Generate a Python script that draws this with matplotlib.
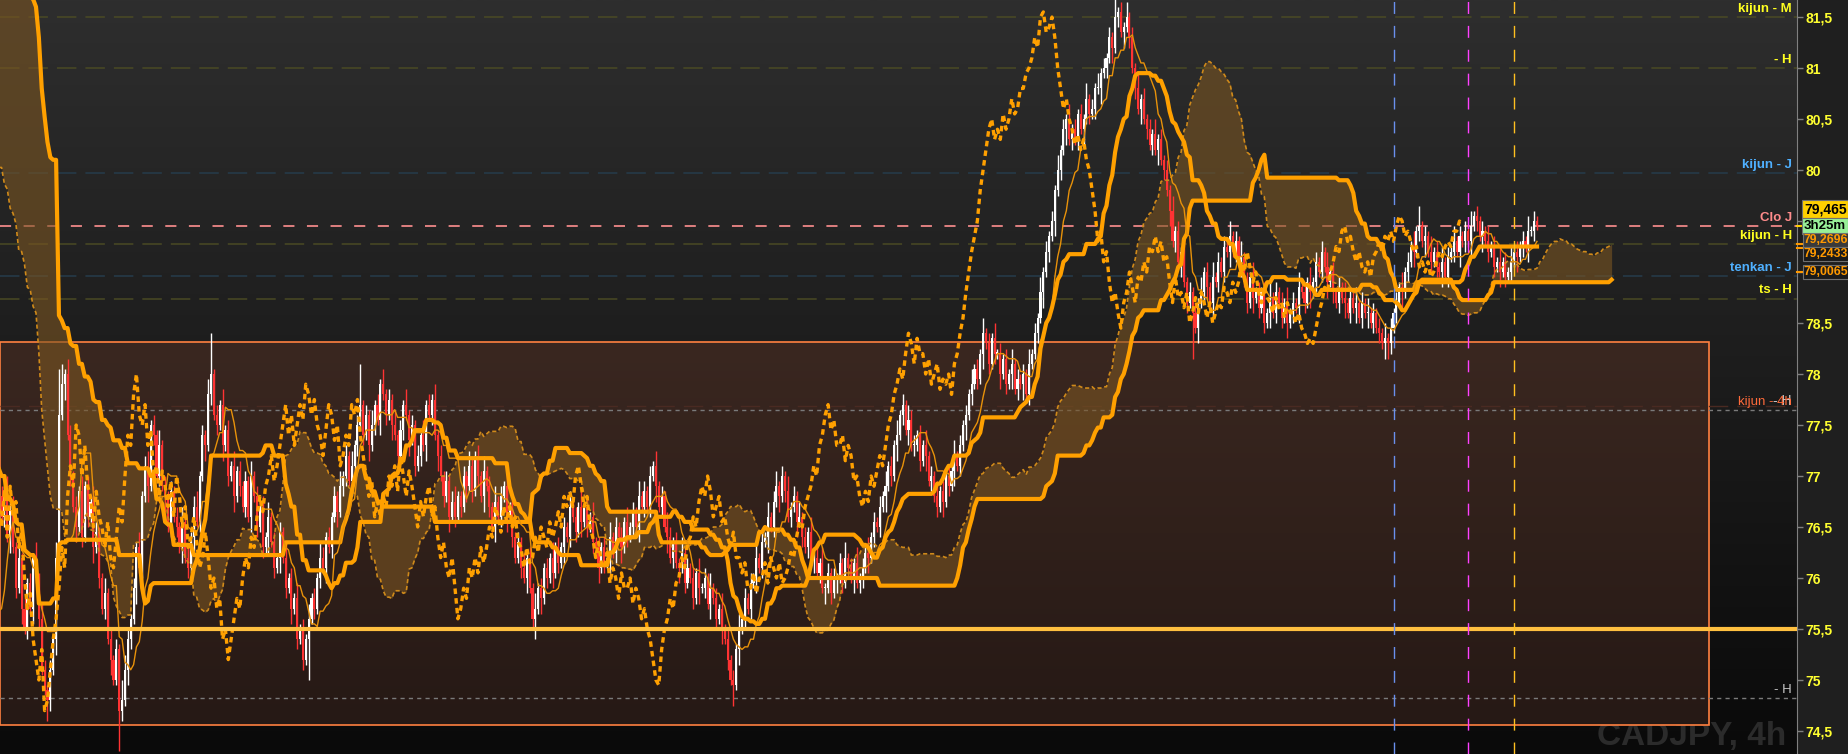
import numpy as np
import pandas as pd
import matplotlib
matplotlib.use("Agg")
import matplotlib.pyplot as plt
import matplotlib.transforms as mtransforms
from matplotlib.colors import LinearSegmentedColormap
from matplotlib.patches import Rectangle

plt.rcParams["font.family"] = ["Liberation Sans", "DejaVu Sans"]
plt.rcParams["lines.scale_dashes"] = False

# CADJPY 4h closes before the visible window (only feed the ichimoku lines)
pre_close = [
    85.9, 86.1, 85.8, 86.0, 85.7, 85.9, 85.6, 85.8, 85.5, 85.7, 85.9, 85.6, 85.4, 85.7, 85.5,
    85.3, 85.6, 85.4, 85.2, 85.5, 85.3, 85.6,
    82.6, 82.4, 82.1, 82.3, 82.0, 81.7, 81.9, 81.5, 81.6, 81.2, 81.0, 81.3, 80.9, 80.6, 80.8,
    80.4, 80.5,
    80.2, 80.4, 80.0, 79.8, 80.1, 79.7, 79.9, 79.5, 79.6, 79.3, 79.6, 79.4, 79.1, 79.3, 79.5,
    79.2,
    79.4, 79.0, 78.7, 78.9, 78.5, 78.2, 78.4, 78.0, 77.7, 77.9, 77.6, 77.8,
    76.9, 76.0, 75.4, 75.0, 74.6, 74.9,
    75.5, 75.9, 76.4, 76.2, 76.7, 76.5, 76.8,
]
pre_wick = "21312 21312 13212 13121 31213 12213 12131 21312 21312 13121 31213 12131 21312 13121 31213 12131"

# visible candles (close of each 4h bar, open = previous close)
close = [
    76.60, 76.85, 76.40, 76.70, 76.30, 75.90, 76.20, 75.70, 75.50, 75.95, 75.70, 76.20, 76.00,
    75.60, 75.10, 74.90, 74.80, 75.10, 75.40, 76.20, 77.60,
    77.90, 78.00, 77.40, 77.00, 76.70, 76.50, 76.85, 76.40, 76.90, 76.60,
    76.75, 76.30, 76.45, 76.00, 75.70, 75.85, 75.40, 75.20, 75.00, 75.30, 74.70, 74.80,
    75.10, 75.40, 75.60, 75.90, 76.30, 76.10, 76.80, 77.10, 76.90, 77.50, 77.40,
    77.00, 77.30, 76.90, 76.80, 76.50, 76.85, 76.60, 76.50, 76.30, 76.55, 76.20, 76.10,
    76.40, 76.70, 76.55, 77.00, 77.40, 77.30, 77.80, 78.00, 77.60, 77.50,
    77.70, 77.30, 77.45, 77.00, 77.10, 76.80, 77.05, 76.90, 76.70,
    76.95, 76.60, 77.00, 76.80, 76.50, 76.70, 76.30, 76.40,
    76.60, 76.35, 76.10, 76.20, 76.45, 76.20, 75.90, 76.00,
    75.70, 75.80, 75.40, 75.50, 75.20, 75.40, 75.60, 75.80, 75.70, 76.00,
    76.20, 76.10, 76.40, 76.30, 76.60, 76.80, 76.65, 76.90, 77.00,
    77.20, 76.95, 77.10, 77.30, 77.50, 77.70,
    77.40, 77.60, 77.30, 77.50, 77.70, 77.55, 77.90, 77.80,
    77.60, 77.75, 77.50, 77.40, 77.20, 77.45, 77.70, 77.60,
    77.35, 77.50, 77.10, 77.20, 77.40, 77.30, 77.70, 77.60,
    77.75, 77.40, 77.20, 77.00, 76.80, 76.95, 76.60, 76.75, 76.60,
    76.80, 76.70, 77.00, 76.90, 77.10, 76.85, 77.20, 77.00,
    76.80, 77.05, 76.90, 76.70, 76.50, 76.75, 76.60, 76.80,
    76.90, 76.60, 76.70, 76.40, 76.20, 76.35, 76.10, 76.00,
    76.20, 75.90, 75.60, 75.70, 75.90, 75.80, 76.10, 76.00,
    76.20, 76.05, 76.30, 76.15, 76.30, 76.50, 76.40, 76.70, 76.60,
    76.45, 76.70, 76.55, 76.70, 76.50, 76.60, 76.35, 76.30,
    76.10, 76.30, 76.15, 76.20, 76.40, 76.25, 76.50, 76.40,
    76.30, 76.55, 76.40, 76.50, 76.65, 76.50, 76.80, 76.70,
    76.85, 76.70, 77.00, 77.10, 76.90, 76.70, 76.80, 76.50, 76.40,
    76.20, 76.35, 76.15, 76.10, 76.25, 75.95, 76.10, 76.00,
    75.80, 76.05, 75.90, 75.90, 76.00, 75.75, 75.90, 75.80,
    75.60, 75.70, 75.50, 75.40, 75.20, 75.00, 74.95, 75.30, 75.50, 75.60,
    75.80, 75.70, 75.95, 76.00, 76.20, 76.10, 76.35, 76.40,
    76.60, 76.50, 76.75, 76.90, 76.80, 77.00, 76.85, 76.60, 76.70,
    76.80, 76.55, 76.60, 76.40, 76.30, 76.45, 76.20, 76.20,
    76.05, 76.15, 75.90, 75.90, 76.05, 75.85, 76.00, 76.00,
    76.15, 75.95, 76.20, 76.10, 76.00, 76.15, 75.95, 76.00,
    76.10, 76.25, 76.20, 76.40, 76.55, 76.50, 76.70, 76.80, 76.90,
    77.10, 77.00, 77.30, 77.40, 77.60, 77.70,
    77.45, 77.55, 77.30, 77.30, 77.40, 77.15, 77.30, 77.20,
    76.95, 77.00, 76.80, 76.70, 76.85, 76.75, 77.00, 76.90,
    77.05, 77.20, 77.10, 77.30, 77.50, 77.60, 77.80, 77.90,
    78.05, 77.95, 78.20, 78.40, 78.30, 78.10, 78.35, 78.20, 78.20,
    78.00, 78.15, 77.90, 78.00, 78.10, 77.85, 77.95, 77.90,
    78.00, 77.80, 78.10, 78.20, 78.40, 78.55, 78.80, 79.00,
    79.20, 79.35, 79.50, 79.80, 80.00, 80.20, 80.40, 80.50,
    80.30, 80.40, 80.30, 80.55, 80.40, 80.50,
    80.70, 80.55, 80.60, 80.80, 80.80, 80.95, 81.00, 81.10,
    81.30, 81.20, 81.50, 81.55, 81.35, 81.40, 81.50, 81.30,
    81.00, 80.80, 80.60, 80.70, 80.50, 80.40, 80.25, 80.35, 80.20,
    80.30, 80.10, 80.00, 79.80, 79.60, 79.30,
    79.40, 79.10, 79.20, 78.90, 78.70, 78.80, 78.60, 78.45, 78.70, 78.80,
    79.00, 78.85, 78.70, 78.95, 78.90, 79.10, 79.00, 79.25, 79.20,
    79.35, 79.20, 79.30, 79.10, 79.15, 78.90,
    78.70, 78.95, 78.75, 78.80, 78.65, 78.80, 78.50, 78.60,
    78.75, 78.60, 78.80, 78.70, 78.55, 78.70, 78.50, 78.60,
    78.70, 78.65, 78.85, 78.80, 78.70, 78.90, 78.80, 78.90,
    79.10, 79.00, 79.20, 79.05, 78.90, 79.00, 78.80,
    78.70, 78.85, 78.75, 78.70, 78.60, 78.75, 78.65, 78.70,
    78.55, 78.70, 78.60, 78.60, 78.50, 78.60, 78.45, 78.40,
    78.30, 78.35, 78.30, 78.45, 78.60, 78.70,
    78.85, 78.80, 79.00, 79.10, 79.25, 79.20, 79.40, 79.45,
    79.30, 79.35, 79.20, 79.10, 79.20, 79.05, 79.00,
    79.10, 78.95, 79.15, 79.20, 79.30, 79.20, 79.35, 79.30,
    79.40, 79.30, 79.45, 79.55, 79.50, 79.35, 79.40, 79.30,
    79.20, 79.25, 79.05, 79.10, 79.00, 79.10, 78.95, 79.00,
    79.10, 79.20, 79.15, 79.25, 79.30, 79.25, 79.40, 79.40,
    79.50, 79.465,
]

# wick lengths in 0.05 steps (upper / lower)
wick_up = (
    "21312 13121 21313 21213 94132 12131 21321 13121 21432 12131 23121 31212"
    "12131 21231 21381 21312 13121 21312 12131 21213 12131 21312 13212 12131"
    "21312 81213 12131 21312 13121 21312 13121 21231 12132 12131 21312 13121"
    "21312 13121 21312 12131 21312 13121 21312 12131 21312 12131 21321 21312"
    "12131 21312 13121 21312 12131 21312 31213 12131 21312 13121 21213 12131"
    "21312 12131 21312 13221 21312 13121 21312 12131 21312 13121 21312 12131"
    "21312 12131 21312 12131 21312 12141 21312 13121 21312 12131 21312 12131"
    "21312 12131 21312 13121 21312 12131 21312 13121 21312 12131 21312 13121"
    "21312 12131 21314 12131 21312 13121 21312 12131 21312 13121 21312 12131"
)
wick_dn = (
    "12131 21312 13121 14213 21312 13121 21312 12131 18213 21312 13121 21312"
    "12131 21312 13121 21312 13121 21312 12131 21312 13121 21812 12131 21312"
    "21312 12131 21312 13121 21312 12131 21312 13121 21312 12131 21312 13121"
    "12131 24131 21312 13121 21312 12131 21312 13121 21312 12131 21312 13121"
    "12131 21312 13121 41312 12131 21312 13121 21312 12131 21312 13121 21312"
    "21312 12131 21312 13121 21312 12131 21312 13121 21312 12131 21312 13121"
    "12131 21312 13121 21312 12131 21312 13121 21312 12131 21312 13121 91312"
    "21312 12131 21312 13121 21312 12131 21312 13121 21312 12131 21312 13121"
    "21332 12131 21312 13121 21312 12131 21312 13121 21312 12131 21312 13121"
)

tick_vals = [74.5, 75, 75.5, 76, 76.5, 77, 77.5, 78, 78.5, 79, 79.5, 80, 80.5, 81, 81.5]
tick_labels = ["74,5", "75", "75,5", "76", "76,5", "77", "77,5", "78", "78,5",
               "79", "79,5", "80", "80,5", "81", "81,5"]

level_vals = [81.5, 81.0, 79.97, 79.45, 79.27, 78.96, 78.74, 77.65, 74.82]
level_text = ["kijun - M", "- H", "kijun - J", "Clo J", "kijun - H", "tenkan - J",
              "ts - H", "kijun - 4h", "- H"]
level_kind = ["olive", "olive", "blue", "pink", "olive", "blue", "olive", "grey", "grey"]

support = 75.5
box_top, box_bottom = 78.31, 74.56
vline_back = [50, 24, 8]  # bars before the last one
price_tags = ["79,465", "3h25m", "79,2696", "79,2433", "79,0065"]

# ---- build OHLC ----
n_pre = len(pre_close)
n = len(close)
c_all = np.array(pre_close + close, dtype=float)
o_all = np.r_[c_all[0], c_all[:-1]]
pw = [int(ch) for ch in pre_wick.replace(" ", "")][:n_pre]
wu = np.array(pw + [int(ch) for ch in wick_up.replace(" ", "")][:n]) * 0.05
wd = np.array(pw + [int(ch) for ch in wick_dn.replace(" ", "")][:n]) * 0.05
h_all = np.maximum(o_all, c_all) + wu
l_all = np.minimum(o_all, c_all) - wd
x_all = np.arange(len(c_all)) - n_pre

hi = pd.Series(h_all)
lo = pd.Series(l_all)
tenkan = (hi.rolling(9).max() + lo.rolling(9).min()) / 2
kijun = (hi.rolling(26).max() + lo.rolling(26).min()) / 2
span_a = (tenkan + kijun) / 2
span_b = (hi.rolling(52).max() + lo.rolling(52).min()) / 2

# ---- figure ----
W, H = 1849, 754
plot_w = 1797
bar_px = 2.87
last = n - 1
xr = last + (plot_w - 1537) / bar_px
xl = xr - plot_w / bar_px
y0, y1 = 74.2745, 81.667

fig = plt.figure(figsize=(W / 100, H / 100), dpi=100, facecolor="#1f1f1f")
ax = fig.add_axes([0, 0, plot_w / W, 1])
ax.set_facecolor("#1a1a1a")

bg = LinearSegmentedColormap.from_list("bg", ["#0a0a0a", "#1c1c1c", "#2e2e2e"])
ax.imshow(np.linspace(0, 1, 256)[:, None][::-1], extent=[xl, xr, y0, y1],
          aspect="auto", cmap=bg, zorder=0)

ax.text(1786 / plot_w, 2 / H, "CADJPY, 4h", transform=ax.transAxes, ha="right",
        va="bottom", fontsize=24, fontweight="bold", color="#2b2b2b", zorder=0.5)

box_end = last + 60
boxmap = LinearSegmentedColormap.from_list("box", ["#261915", "#3a2720"])
ax.imshow(np.linspace(0, 1, 128)[:, None][::-1], extent=[xl, box_end, box_bottom, box_top],
          aspect="auto", cmap=boxmap, zorder=1)
ax.add_patch(Rectangle((xl, box_bottom), box_end - xl, box_top - box_bottom,
                       fill=False, ec="#ff8040", lw=1.2, zorder=1.1))

# level lines
styles = {
    "olive": dict(color="#4a4a24", dashes=(14, 6.5), lw=1.1),
    "blue": dict(color="#263c4c", dashes=(14, 6.5), lw=1.1),
    "pink": dict(color="#ff9090", dashes=(8, 9), lw=1.2),
    "grey": dict(color="#7a7a7a", dashes=(3, 3), lw=1.0),
}
label_col = {"olive": "#ffff20", "blue": "#4fb0ff", "pink": "#ff8c8c", "grey": "#c8c8c8"}
trans = mtransforms.blended_transform_factory(ax.transAxes, ax.transData)
for val, txt, kind in zip(level_vals, level_text, level_kind):
    st = styles[kind]
    ax.axhline(val, color=st["color"], lw=st["lw"], dashes=st["dashes"], zorder=2)
    col = label_col[kind]
    if txt == "kijun - 4h":
        col = "#ff6a3a"
        ax.axhline(val + 0.04, color="#4a2a22", lw=1.0, dashes=(14, 6.5), zorder=2)
        ax.annotate("- H", xy=(1792 / plot_w, val), xycoords=trans, xytext=(0, 1.5),
                    textcoords="offset points", ha="right", va="bottom", fontsize=10,
                    color="#c8c8c8", zorder=8)
    ax.annotate(txt, xy=(1792 / plot_w, val), xycoords=trans, xytext=(0, 1.5),
                textcoords="offset points", ha="right", va="bottom", fontsize=9.5,
                fontweight="bold" if kind != "grey" else "normal", color=col, zorder=8)

# cloud
xs = x_all + 26
ax.fill_between(xs, span_a, span_b, color="#7a5522", alpha=0.6, lw=0, zorder=2.5)
ax.plot(xs, span_a, color="#d08a1a", lw=1.2, dashes=(3, 2), zorder=5)
ax.plot(xs, span_b, color="#ffa000", lw=3, zorder=5)

# candles
upc = c_all >= o_all
cols = np.where(upc, "#ffffff", "#ff3333")
ax.vlines(x_all, l_all, h_all, colors=cols, lw=1, zorder=4)
ax.bar(x_all, np.maximum(np.abs(c_all - o_all), 0.012), bottom=np.minimum(o_all, c_all),
       width=0.72, color=cols, lw=0, zorder=4)

# ichimoku lines
ax.plot(x_all, tenkan, color="#e8920a", lw=1.0, zorder=5)
ax.plot(x_all, kijun, color="#ffa000", lw=3, zorder=5)
ax.plot(x_all - 26, c_all, color="#ffa000", lw=2.4, dashes=(4, 3), zorder=5)

ax.axhline(support, color="#ffc040", lw=3, zorder=6)

vcols = ["#6a90ee", "#ff40ff", "#ffc020"]
for b, vc in zip(vline_back, vcols):
    ax.axvline(last - b, color=vc, lw=1, dashes=(8.6, 8.6), zorder=7)

ax.set_xlim(xl, xr)
ax.set_ylim(y0, y1)
ax.xaxis.set_visible(False)
for side in ["left", "top", "bottom"]:
    ax.spines[side].set_visible(False)
ax.spines["right"].set_color("#808080")
ax.yaxis.tick_right()
ax.set_yticks(tick_vals)
ax.set_yticklabels(tick_labels)
ax.tick_params(axis="y", colors="#808080", labelcolor="#ffff30", length=4, width=1,
               pad=2, labelsize=10)
for lab in ax.get_yticklabels():
    lab.set_fontweight("bold")

# price tags on the axis
tag_y = [209, 226, 240, 254, 272]
tag_fs = [10, 9.5, 8.8, 8.8, 8.8]
tag_fc = ["#ffd000", "#98f098", "#3a3a3a", "#1a1a1a", "#1a1a1a"]
tag_tc = ["#000000", "#000000", "#ff9900", "#ff9900", "#ff9900"]
for txt, yy, fs, fc, tc in zip(price_tags, tag_y, tag_fs, tag_fc, tag_tc):
    fig.text(1804 / W, 1 - yy / H, txt, ha="left", va="center", fontsize=fs,
             fontweight="bold", color=tc,
             bbox=dict(boxstyle="square,pad=0.12", fc=fc, ec="#707070", lw=0.8))
for yy, mc in zip([226, 244, 248, 272], ["#ffd000", "#ff9900", "#ff9900", "#ff9900"]):
    fig.add_artist(plt.Line2D([plot_w / W, 1803 / W], [1 - yy / H] * 2, color=mc, lw=1.5))

fig.savefig("out.png", dpi=100, facecolor=fig.get_facecolor())
